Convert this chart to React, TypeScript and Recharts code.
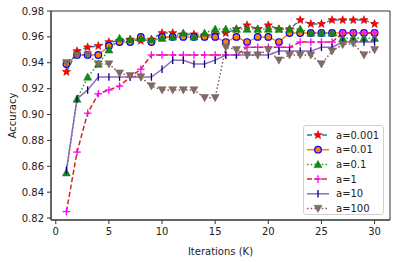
import { LineChart, Line, XAxis, YAxis, ReferenceArea } from 'recharts';

const iterations = [1, 2, 3, 4, 5, 6, 7, 8, 9, 10, 11, 12, 13, 14, 15, 16, 17, 18, 19, 20, 21, 22, 23, 24, 25, 26, 27, 28, 29, 30];

const a0001 = [0.933, 0.949, 0.952, 0.953, 0.956, 0.957, 0.958, 0.957, 0.958, 0.963, 0.963, 0.962, 0.962, 0.961, 0.962, 0.963, 0.966, 0.969, 0.966, 0.969, 0.966, 0.966, 0.973, 0.97, 0.97, 0.973, 0.973, 0.973, 0.973, 0.97];
const a001 = [0.939, 0.946, 0.946, 0.946, 0.953, 0.956, 0.956, 0.96, 0.956, 0.96, 0.96, 0.96, 0.96, 0.96, 0.96, 0.956, 0.96, 0.956, 0.96, 0.96, 0.956, 0.963, 0.963, 0.963, 0.963, 0.963, 0.963, 0.963, 0.963, 0.963];
const a01 = [0.855, 0.912, 0.929, 0.939, 0.95, 0.959, 0.958, 0.959, 0.958, 0.959, 0.96, 0.963, 0.96, 0.963, 0.966, 0.966, 0.966, 0.966, 0.966, 0.966, 0.966, 0.966, 0.966, 0.963, 0.963, 0.963, 0.959, 0.959, 0.959, 0.959];
const a1 = [0.825, 0.871, 0.901, 0.916, 0.919, 0.922, 0.929, 0.935, 0.946, 0.946, 0.946, 0.946, 0.946, 0.946, 0.946, 0.946, 0.946, 0.952, 0.952, 0.952, 0.952, 0.952, 0.956, 0.956, 0.956, 0.956, 0.963, 0.963, 0.963, 0.963];
const a10 = [0.857, 0.912, 0.919, 0.929, 0.929, 0.929, 0.929, 0.929, 0.929, 0.935, 0.942, 0.942, 0.939, 0.939, 0.942, 0.946, 0.946, 0.946, 0.946, 0.946, 0.949, 0.949, 0.949, 0.949, 0.952, 0.952, 0.956, 0.956, 0.956, 0.956];
const a100 = [0.94, 0.946, 0.946, 0.939, 0.939, 0.932, 0.93, 0.929, 0.922, 0.919, 0.919, 0.919, 0.919, 0.913, 0.913, 0.952, 0.95, 0.946, 0.946, 0.95, 0.942, 0.946, 0.946, 0.946, 0.939, 0.949, 0.954, 0.955, 0.946, 0.95];

const xTicks = [0, 5, 10, 15, 20, 25, 30];
const yTicks = [0.82, 0.84, 0.86, 0.88, 0.9, 0.92, 0.94, 0.96, 0.98];

const data = iterations.map((it, i) => ({
  it,
  s1: a0001[i],
  s2: a001[i],
  s3: a01[i],
  s4: a1[i],
  s5: a10[i],
  s6: a100[i]
}));

const font = 'DejaVu Sans';
const textColor = '#222';

type MarkerKind = 'star' | 'circle' | 'tri' | 'plus' | 'vbar' | 'tridown';

function Marker({ kind, cx, cy }: { kind: MarkerKind; cx: number; cy: number }) {
  if (kind === 'star') {
    const pts: string[] = [];
    for (let k = 0; k < 10; k++) {
      const r = k % 2 === 0 ? 4.4 : 1.9;
      const ang = -Math.PI / 2 + (k * Math.PI) / 5;
      pts.push(`${cx + r * Math.cos(ang)},${cy + r * Math.sin(ang)}`);
    }
    return <polygon points={pts.join(' ')} fill="#ff0000" stroke="#c00000" strokeWidth={0.5} />;
  }
  if (kind === 'circle') {
    return <circle cx={cx} cy={cy} r={3.3} fill="#ff7f0e" stroke="#0000ff" strokeWidth={1.2} />;
  }
  if (kind === 'tri') {
    const s = 4;
    return (
      <polygon
        points={`${cx},${cy - s} ${cx - s},${cy + s * 0.8} ${cx + s},${cy + s * 0.8}`}
        fill="#138a13"
        stroke="#0f7a0f"
        strokeWidth={0.5}
      />
    );
  }
  if (kind === 'tridown') {
    const s = 4;
    return (
      <polygon
        points={`${cx},${cy + s} ${cx - s},${cy - s * 0.8} ${cx + s},${cy - s * 0.8}`}
        fill="#7f6a66"
        stroke="#76615d"
        strokeWidth={0.5}
      />
    );
  }
  if (kind === 'plus') {
    const s = 3.8;
    return (
      <g stroke="#ff00ff" strokeWidth={1.3}>
        <line x1={cx - s} y1={cy} x2={cx + s} y2={cy} />
        <line x1={cx} y1={cy - s} x2={cx} y2={cy + s} />
      </g>
    );
  }
  return <line x1={cx} y1={cy - 3.8} x2={cx} y2={cy + 3.8} stroke="#00008b" strokeWidth={1.3} />;
}

const series = [
  { key: 's1', name: 'a=0.001', color: '#1f77b4', dash: '5 2.5', marker: 'star' as MarkerKind },
  { key: 's2', name: 'a=0.01', color: '#ff7f0e', dash: undefined, marker: 'circle' as MarkerKind },
  { key: 's3', name: 'a=0.1', color: '#2ca02c', dash: '1.5 2.2', marker: 'tri' as MarkerKind },
  { key: 's4', name: 'a=1', color: '#d62728', dash: '5 2.5', marker: 'plus' as MarkerKind },
  { key: 's5', name: 'a=10', color: '#9467bd', dash: undefined, marker: 'vbar' as MarkerKind },
  { key: 's6', name: 'a=100', color: '#8c564b', dash: '1.5 2.2', marker: 'tridown' as MarkerKind }
];

function LegendBox() {
  return (
    <div
      style={{
        position: 'absolute',
        left: 303,
        top: 125,
        width: 81,
        height: 90,
        border: '1px solid #d0d0d0',
        borderRadius: 3,
        background: 'rgba(255,255,255,0.85)',
        boxSizing: 'border-box'
      }}
    >
      <svg width={79} height={88} style={{ display: 'block' }}>
        {series.map((s, i) => {
          const y = 9 + i * 14.7;
          return (
            <g key={s.key}>
              <line x1={3} y1={y} x2={25} y2={y} stroke={s.color} strokeWidth={1.5} strokeDasharray={s.dash} />
              <Marker kind={s.marker} cx={14} cy={y} />
              <text x={32} y={y + 3.6} fontFamily={font} fontSize={10} fill={textColor}>
                {s.name}
              </text>
            </g>
          );
        })}
      </svg>
    </div>
  );
}

export default function App() {
  return (
    <div style={{ position: 'absolute', left: 0, top: 0, width: 399, height: 262, background: '#fff' }}>
      <LineChart width={399} height={262} data={data} margin={{ top: 11, right: 9, left: 0, bottom: 0 }}>
        <XAxis
          dataKey="it"
          type="number"
          domain={[-0.45, 31.45]}
          ticks={xTicks}
          interval={0}
          allowDataOverflow
          height={42}
          stroke="#333"
          tickSize={4}
          tickMargin={4}
          tick={{ fill: textColor, fontFamily: font, fontSize: 10 }}
          label={{ value: 'Iterations (K)', position: 'insideBottom', offset: 7, fill: textColor, fontFamily: font, fontSize: 10 }}
        />
        <YAxis
          type="number"
          domain={[0.8185, 0.98]}
          ticks={yTicks}
          interval={0}
          allowDataOverflow
          width={51}
          stroke="#333"
          tickSize={4}
          tickMargin={3}
          tickFormatter={(v: number) => v.toFixed(2)}
          tick={{ fill: textColor, fontFamily: font, fontSize: 10 }}
          label={{ value: 'Accuracy', angle: -90, position: 'center', dx: -13, fill: textColor, fontFamily: font, fontSize: 10 }}
        />
        <ReferenceArea x1={-0.45} x2={31.45} y1={0.8185} y2={0.98} fill="none" stroke="#333" strokeWidth={1} />
        {series.map((s) => (
          <Line
            key={s.key}
            dataKey={s.key}
            name={s.name}
            type="linear"
            stroke={s.color}
            strokeWidth={1.5}
            strokeDasharray={s.dash}
            isAnimationActive={false}
            dot={(p: any) => <Marker key={`${s.key}-${p.index}`} kind={s.marker} cx={p.cx} cy={p.cy} />}
            activeDot={false}
          />
        ))}
      </LineChart>
      <LegendBox />
    </div>
  );
}
